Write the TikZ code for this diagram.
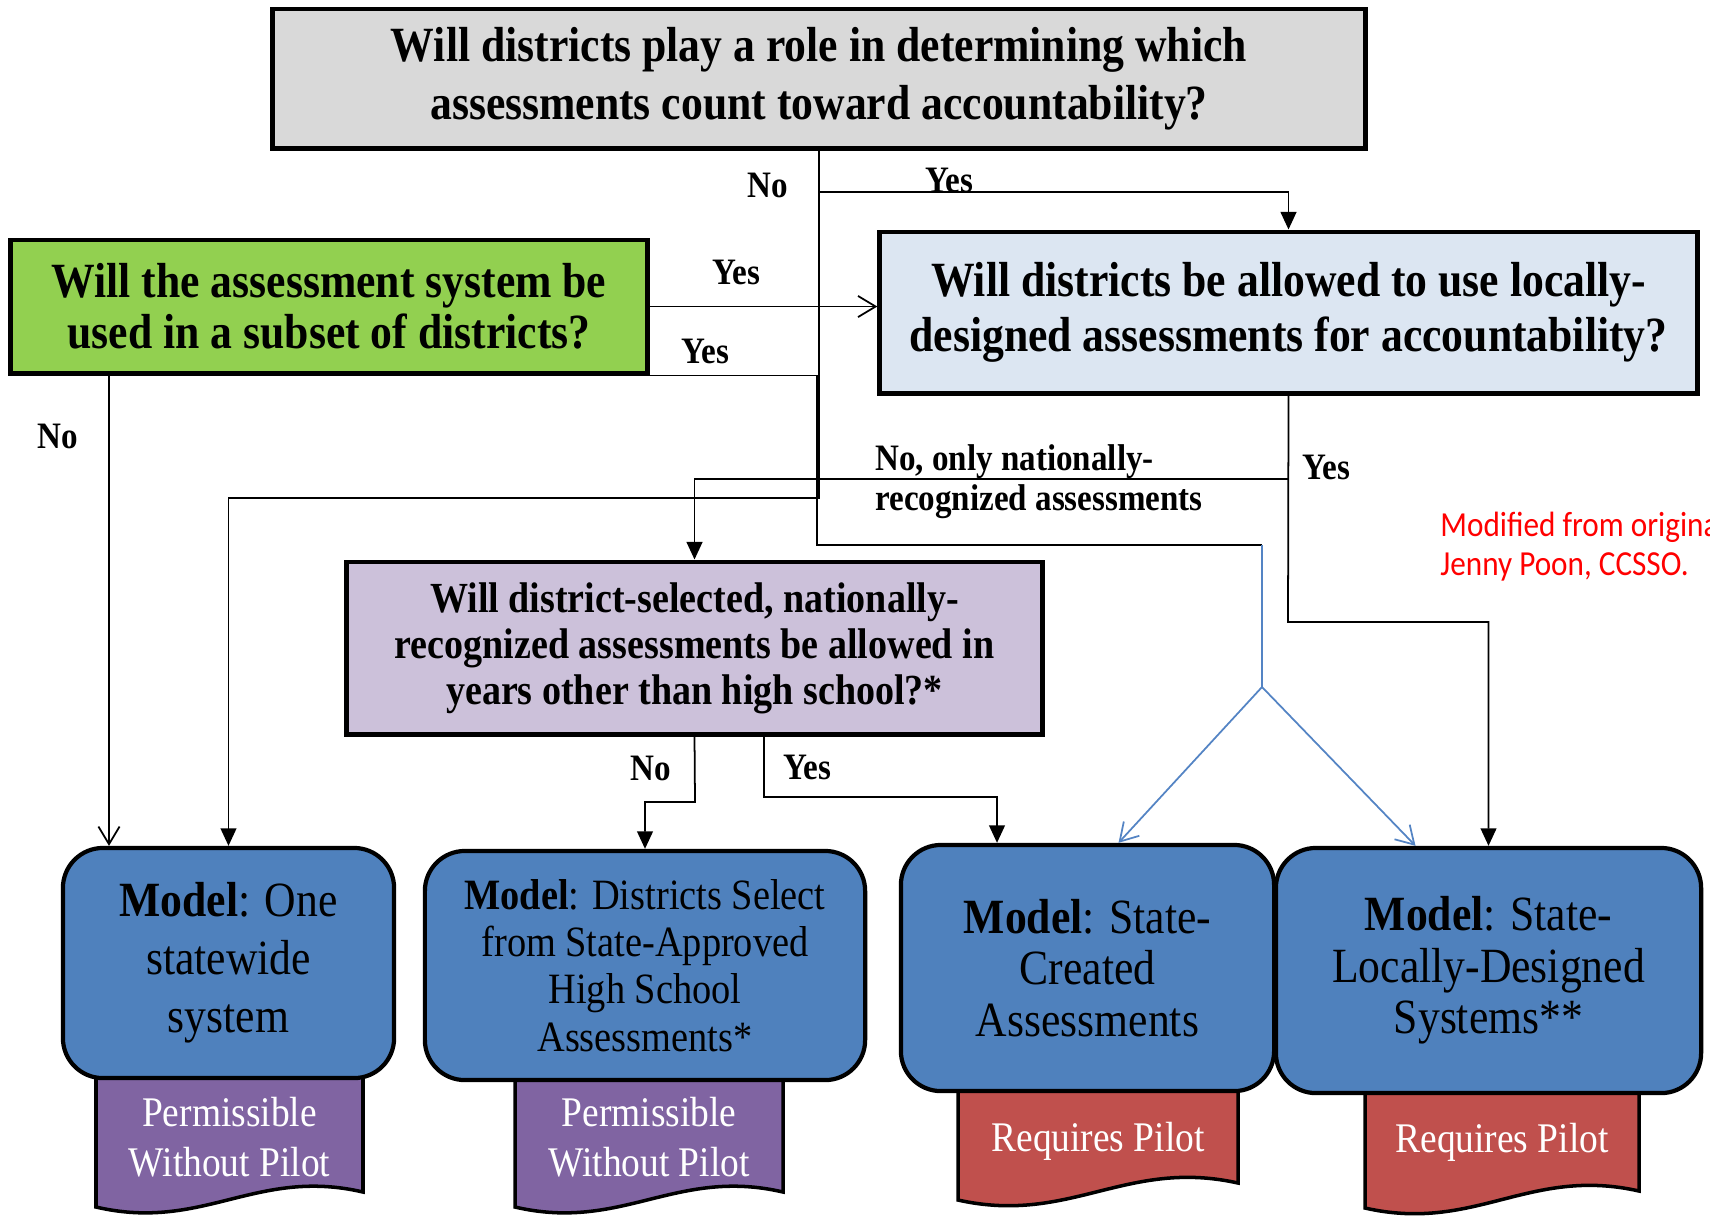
\documentclass[tikz,border=0pt]{standalone}
\usepackage{fontspec}
\setmainfont{Liberation Serif}[FakeStretch=0.887]
\newfontfamily\notefont{Carlito}[FakeStretch=0.887]
\usetikzlibrary{arrows.meta, calc}

\definecolor{askgray}{RGB}{217,217,217}
\definecolor{askgreen}{RGB}{146,208,80}
\definecolor{askblue}{RGB}{220,230,242}
\definecolor{asklilac}{RGB}{204,193,218}
\definecolor{modelblue}{RGB}{79,129,189}
\definecolor{tagpurple}{RGB}{128,100,162}
\definecolor{tagred}{RGB}{192,80,77}
\definecolor{splitblue}{RGB}{84,132,196}

\tikzset{
>={Triangle[length=5pt,width=4.5pt]}, % filled heads on the black connectors
question/.style={draw, line width=1.4pt, align=center, inner sep=0pt, font=\fontsize{14}{16.5}\selectfont\bfseries}, % the four decision boxes
model/.style={draw, line width=1.2pt, rounded corners=0.4cm, fill=modelblue, align=center, inner sep=0pt, font=\fontsize{14}{16.5}\selectfont}, % the outcome boxes
tag/.style={draw, line width=1pt}, % the flag hanging under each model
tagtext/.style={text=white, align=center, font=\fontsize{12}{14.2}\selectfont},
answer/.style={font=\fontsize{10.6}{11.4}\selectfont\bfseries}, % Yes / No labels
note/.style={text=red, align=left, font=\notefont\fontsize{10}{11.1}\selectfont},
wire/.style={line width=0.5pt},
openarrow/.style={wire, -{Straight Barb[length=5pt,width=6pt]}}, % open heads
split/.style={splitblue, line width=0.5pt},
}

\begin{document}
\begin{tikzpicture}[x=0.01cm, y=-0.01cm]
  \useasboundingbox (0,0) rectangle (1710,1217);

  % Questions
  \node[question, fill=askgray, minimum width=10.92cm, minimum height=1.39cm] (qtop) at (819,78.5)
    {Will districts play a role in determining which\\assessments count toward accountability?};
  \node[question, fill=askgreen, minimum width=6.36cm, minimum height=1.33cm, font=\fontsize{14}{14.5}\selectfont\bfseries] (qsub) at (329,306.5)
    {Will the assessment system be\\used in a subset of districts?};
  \node[question, fill=askblue, minimum width=8.17cm, minimum height=1.61cm, font=\fontsize{14}{15.6}\selectfont\bfseries] (qloc) at (1288.5,312.5)
    {Will districts be allowed to use locally-\\designed assessments for accountability?};
  \node[question, fill=asklilac, minimum width=6.95cm, minimum height=1.72cm, font=\fontsize{12.2}{13.1}\selectfont\bfseries] (qnat) at (694.5,648)
    {Will district-selected, nationally-\\recognized assessments be allowed in\\years other than high school?*};

  % Flags under the models
  \draw[tag, fill=tagpurple] (96,1060) -- (96,1207) .. controls (203,1232) and (256,1167) .. (363,1192) -- (363,1060) -- cycle;
  \draw[tag, fill=tagpurple] (515,1060) -- (515,1207) .. controls (622,1232) and (676,1167) .. (783,1192) -- (783,1060) -- cycle;
  \draw[tag, fill=tagred] (958,1070) -- (958,1200) .. controls (1070,1225) and (1126,1158) .. (1238,1183) -- (1238,1070) -- cycle;
  \draw[tag, fill=tagred] (1365,1070) -- (1365,1208) .. controls (1475,1233) and (1529,1166) .. (1639,1191) -- (1639,1070) -- cycle;

  % Models
  \node[model, minimum width=3.31cm, minimum height=2.30cm] (mone) at (228.5,963)
    {\textbf{Model}: One\\statewide\\system};
  \node[model, minimum width=4.40cm, minimum height=2.29cm, font=\fontsize{12.3}{13.4}\selectfont] (msel) at (645,965.5)
    {\textbf{Model}: Districts Select\\from State-Approved\\High School\\Assessments*};
  \node[model, minimum width=3.73cm, minimum height=2.46cm, font=\fontsize{14}{14.6}\selectfont] (mstate) at (1087.5,968)
    {\textbf{Model}: State-\\Created\\Assessments};
  \node[model, minimum width=4.25cm, minimum height=2.45cm, font=\fontsize{14}{14.6}\selectfont] (mlocal) at (1488.5,970.5)
    {\textbf{Model}: State-\\Locally-Designed\\Systems**};

  \node[tagtext] (tone) at (229.5,1137) {Permissible\\Without Pilot};
  \node[tagtext] (tsel) at (649,1137) {Permissible\\Without Pilot};
  \node[tagtext] (tstate) at (1098,1141) {Requires Pilot};
  \node[tagtext] (tlocal) at (1502,1142) {Requires Pilot};

  % Bends
  \coordinate (yestop) at (819,192);
  \coordinate (notop) at (819,498);
  \coordinate (nosub) at (109,373);
  \coordinate (yessub) at (817,545);
  \coordinate (fork) at (1262,687);
  \coordinate (noloc) at (1288,479);
  \coordinate (yesloc) at (1288,622);
  \coordinate (nonat) at (695,802);
  \coordinate (yesnat) at (764,734);
  \coordinate (yesnatbend) at (764,797);

  % Transitions
  \draw[wire, ->] (qtop.south) -- (notop) -| (mone.north);
  \draw[wire, ->] (yestop) -| (qloc.north);
  \draw[openarrow] (qsub.east) -- (qsub.east -| qloc.west);
  \draw[openarrow] (nosub) -- (nosub |- mone.north);
  \draw[wire] (qsub.south east) -| (yessub) -- (yessub -| fork);
  \draw[split] (yessub -| fork) -- (fork);
  \draw[split, -{Straight Barb[length=5pt,width=6pt]}] (fork) -- ($(mstate.north)+(31,0)$);
  \draw[split, -{Straight Barb[length=5pt,width=6pt]}] (fork) -- ($(mlocal.north)+(-73,0)$);
  \draw[wire, ->] (qloc.south) -- (yesloc) -| (mlocal.north);
  \draw[wire, ->] (noloc) -| (qnat.north);
  \draw[wire, ->] (qnat.south) -- (nonat) -| (msel.north);
  \draw[wire, ->] (yesnat) -- (yesnatbend) -| ($(mstate.north)+(-90.5,0)$);

  % Labels
  \node[answer] (lnotop) at (768,185) {No};
  \node[answer] (lyestop) at (949,180) {Yes};
  \node[answer] (lyessub) at (736,272) {Yes};
  \node[answer] (lyessubb) at (705,351) {Yes};
  \node[answer] (lnosub) at (58,436) {No};
  \node[answer, align=left, anchor=west] (lnoloc) at (863,482) {No, only nationally-\\recognized assessments};
  \node[answer] (lyesloc) at (1326,467) {Yes};
  \node[answer] (lnonat) at (651,768) {No};
  \node[answer] (lyesnat) at (807,767) {Yes};

  \begin{scope}
    \clip (0,0) rectangle (1710,1217);
    \node[note, anchor=west] (credit) at (1428,546.5) {Modified from original\\Jenny Poon, CCSSO.};
  \end{scope}
\end{tikzpicture}
\end{document}
